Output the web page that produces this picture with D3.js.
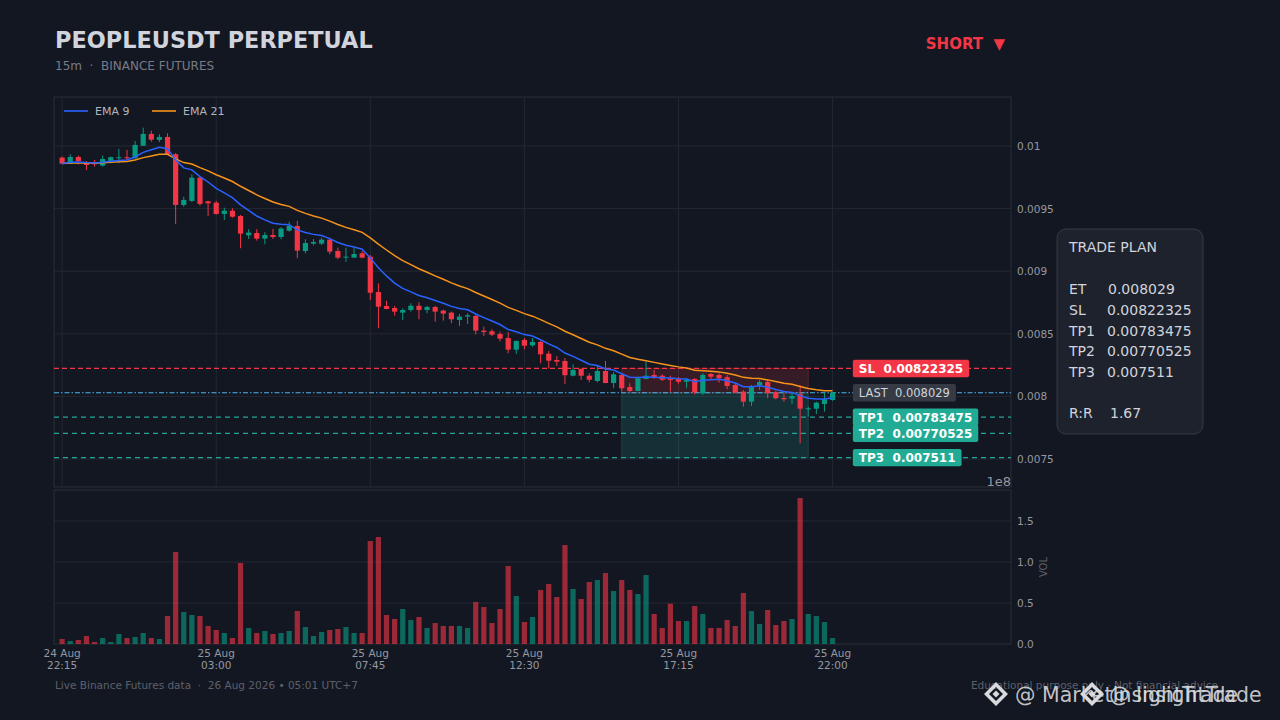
<!DOCTYPE html>
<html>
<head>
<meta charset="utf-8">
<script src="https://cdn.jsdelivr.net/npm/d3@7"></script>
<style>
html, body { margin: 0; padding: 0; background: #131722; }
svg { display: block; font-family: "DejaVu Sans", sans-serif; }
svg text { white-space: pre; }
</style>
</head>
<body>
<div id="chart"></div>
<script>

// 15m candles, 24 Aug 22:15 -> 25 Aug 22:00
var opens = [0.009907,0.009859,0.009912,0.009870,0.009870,0.009843,0.009880,0.009902,0.009910,0.009902,
    0.010002,0.010096,0.010048,0.010072,0.009934,0.009529,0.009561,0.009747,0.009558,0.009547,
    0.009457,0.009483,0.009441,0.009287,0.009305,0.009260,0.009289,0.009273,0.009323,0.009361,
    0.009161,0.009220,0.009220,0.009252,0.009161,0.009108,0.009108,0.009143,0.009116,0.008834,
    0.008722,0.008706,0.008669,0.008690,0.008724,0.008690,0.008714,0.008685,0.008669,0.008610,
    0.008637,0.008642,0.008525,0.008520,0.008498,0.008466,0.008373,0.008451,0.008408,0.008435,
    0.008341,0.008291,0.008283,0.008165,0.008219,0.008165,0.008123,0.008203,0.008107,0.008171,
    0.008075,0.008043,0.008139,0.008171,0.008165,0.008139,0.008139,0.008117,0.008139,0.008025,
    0.008179,0.008171,0.008153,0.008091,0.008038,0.007958,0.008089,0.008115,0.008035,0.007987,
    0.007982,0.008019,0.007897,0.007902,0.007939,0.007971];
var highs = [0.009915,0.009934,0.009923,0.009880,0.009888,0.009923,0.009915,0.009976,0.009968,0.010040,
    0.010146,0.010122,0.010093,0.010101,0.009944,0.009595,0.009774,0.009760,0.009563,0.009561,
    0.009507,0.009502,0.009449,0.009335,0.009335,0.009311,0.009337,0.009351,0.009395,0.009401,
    0.009255,0.009257,0.009268,0.009268,0.009188,0.009188,0.009183,0.009161,0.009129,0.008903,
    0.008764,0.008722,0.008704,0.008744,0.008752,0.008724,0.008724,0.008693,0.008677,0.008658,
    0.008664,0.008650,0.008557,0.008536,0.008517,0.008514,0.008446,0.008466,0.008466,0.008443,
    0.008363,0.008323,0.008307,0.008256,0.008224,0.008185,0.008245,0.008283,0.008193,0.008175,
    0.008105,0.008157,0.008277,0.008211,0.008176,0.008165,0.008155,0.008145,0.008145,0.008185,
    0.008189,0.008185,0.008171,0.008099,0.008051,0.008091,0.008131,0.008131,0.008046,0.008025,
    0.008030,0.008091,0.007918,0.007958,0.008030,0.008035];
var lows = [0.009854,0.009856,0.009854,0.009808,0.009835,0.009835,0.009862,0.009862,0.009888,0.009898,
    0.010000,0.010034,0.010030,0.009930,0.009377,0.009515,0.009553,0.009523,0.009441,0.009451,
    0.009409,0.009427,0.009183,0.009257,0.009244,0.009215,0.009257,0.009255,0.009316,0.009103,
    0.009143,0.009207,0.009209,0.009135,0.009095,0.009074,0.009105,0.009103,0.008770,0.008544,
    0.008696,0.008645,0.008610,0.008677,0.008616,0.008664,0.008597,0.008605,0.008584,0.008562,
    0.008578,0.008496,0.008482,0.008482,0.008440,0.008344,0.008339,0.008376,0.008397,0.008264,
    0.008224,0.008243,0.008099,0.008160,0.008131,0.008113,0.008113,0.008105,0.008065,0.008038,
    0.008033,0.008040,0.008136,0.008139,0.008123,0.008038,0.008101,0.008065,0.008017,0.008011,
    0.008137,0.008110,0.008057,0.008025,0.007918,0.007923,0.008051,0.007985,0.007977,0.007958,
    0.007939,0.007625,0.007838,0.007859,0.007878,0.007965];
var closes = [0.009859,0.009912,0.009880,0.009848,0.009854,0.009896,0.009910,0.009910,0.009902,0.010008,
    0.010096,0.010050,0.010072,0.009934,0.009529,0.009569,0.009747,0.009537,0.009542,0.009457,
    0.009483,0.009435,0.009300,0.009308,0.009260,0.009289,0.009273,0.009340,0.009361,0.009164,
    0.009225,0.009233,0.009252,0.009156,0.009108,0.009116,0.009137,0.009108,0.008828,0.008716,
    0.008698,0.008677,0.008690,0.008724,0.008690,0.008714,0.008677,0.008661,0.008616,0.008637,
    0.008648,0.008525,0.008514,0.008493,0.008461,0.008373,0.008443,0.008405,0.008435,0.008336,
    0.008285,0.008277,0.008169,0.008211,0.008165,0.008133,0.008203,0.008107,0.008176,0.008065,
    0.008043,0.008145,0.008165,0.008149,0.008133,0.008133,0.008117,0.008131,0.008033,0.008171,
    0.008157,0.008145,0.008083,0.008030,0.007958,0.008078,0.008115,0.008025,0.007985,0.007977,
    0.008003,0.007902,0.007905,0.007950,0.007977,0.008029];
// volume, in units of 1e8
var volumes = [0.061,0.037,0.049,0.098,0.024,0.073,0.024,0.122,0.073,0.085,
    0.134,0.073,0.061,0.341,1.122,0.390,0.354,0.341,0.220,0.171,
    0.134,0.073,0.988,0.195,0.134,0.159,0.122,0.134,0.159,0.402,
    0.207,0.098,0.146,0.171,0.183,0.207,0.134,0.134,1.256,1.305,
    0.354,0.305,0.427,0.293,0.329,0.195,0.256,0.220,0.220,0.220,
    0.195,0.512,0.451,0.256,0.427,0.951,0.585,0.268,0.329,0.659,
    0.732,0.573,1.207,0.671,0.549,0.756,0.780,0.866,0.646,0.780,
    0.659,0.610,0.841,0.366,0.195,0.492,0.280,0.280,0.463,0.366,
    0.195,0.195,0.293,0.220,0.622,0.402,0.244,0.415,0.232,0.280,
    0.305,1.780,0.366,0.341,0.268,0.073];

var timeTickIdx = [0, 19, 38, 57, 76, 95];
var timeTickDay = ["24 Aug", "25 Aug", "25 Aug", "25 Aug", "25 Aug", "25 Aug"];
var timeTickTime = ["22:15", "03:00", "07:45", "12:30", "17:15", "22:00"];
var priceTicks = [0.0075, 0.008, 0.0085, 0.009, 0.0095, 0.01];
var volTicks = [0, 0.5, 1.0, 1.5];

// trade plan
var planNames = ["ET", "SL", "TP1", "TP2", "TP3"];
var planValues = [0.008029, 0.00822325, 0.00783475, 0.00770525, 0.007511];
var planText = ["0.008029", "0.00822325", "0.00783475", "0.00770525", "0.007511"];
var riskReward = "1.67";
var zoneStart = 69, zoneEnd = 92;

var W = 1280, H = 720;
var bg = "#131722", gridCol = "#242833", upCol = "#089981", downCol = "#f23645";
var plot = {left: 54, right: 1011, top: 97, bottom: 487};
var vplot = {top: 490, bottom: 644};

var svg = d3.select("#chart").append("svg")
    .attr("width", W)
    .attr("height", H);

svg.append("rect").attr("width", W).attr("height", H).attr("fill", bg);

var x = d3.scaleLinear().domain([-1, 117]).range([plot.left, plot.right]);
var y = d3.scaleLinear().domain([0.0072764, 0.010391]).range([plot.bottom, plot.top]);
var yv = d3.scaleLinear().domain([0, 1.878]).range([vplot.bottom, vplot.top]);

var candles = closes.map(function (c, i) {
    return {i: i, o: opens[i], h: highs[i], l: lows[i], c: c, v: volumes[i]};
});

/* EMA from closes */
function ema(values, n) {
    var k = 2 / (n + 1), out = [], prev;
    values.forEach(function (v, i) {
        prev = (i === 0) ? v : v * k + prev * (1 - k);
        out.push(prev);
    });
    return out;
}
var ema9 = ema(closes, 9), ema21 = ema(closes, 21);

svg.append("clipPath").attr("id", "clipMain")
    .append("rect")
    .attr("x", plot.left).attr("y", plot.top)
    .attr("width", plot.right - plot.left).attr("height", plot.bottom - plot.top);

// ---------- header ----------
svg.append("text").attr("x", 55).attr("y", 48)
    .attr("font-size", 22.4).attr("font-weight", "bold").attr("fill", "#d1d4dc")
    .text("PEOPLEUSDT PERPETUAL");
svg.append("text").attr("x", 55).attr("y", 70)
    .attr("font-size", 12).attr("fill", "#787b86")
    .text("15m  \u00b7  BINANCE FUTURES");
svg.append("text").attr("x", 1005).attr("y", 49).attr("text-anchor", "end")
    .attr("font-size", 15).attr("font-weight", "bold").attr("fill", downCol)
    .text("SHORT  \u25bc");

// ---------- main panel ----------
var main = svg.append("g");

main.selectAll("line.hgrid").data(priceTicks).enter().append("line")
    .attr("class", "hgrid")
    .attr("x1", plot.left).attr("x2", plot.right)
    .attr("y1", function (d) { return y(d); })
    .attr("y2", function (d) { return y(d); })
    .attr("stroke", gridCol).attr("stroke-width", 1);

main.selectAll("line.vgrid").data(timeTickIdx).enter().append("line")
    .attr("class", "vgrid")
    .attr("x1", function (d) { return x(d); })
    .attr("x2", function (d) { return x(d); })
    .attr("y1", plot.top).attr("y2", plot.bottom)
    .attr("stroke", gridCol).attr("stroke-width", 1);

main.append("rect")
    .attr("x", plot.left).attr("y", plot.top)
    .attr("width", plot.right - plot.left).attr("height", plot.bottom - plot.top)
    .attr("fill", "none").attr("stroke", "#2a2e39");

// trade zones
main.append("rect")
    .attr("x", x(zoneStart)).attr("width", x(zoneEnd) - x(zoneStart))
    .attr("y", y(planValues[1])).attr("height", y(planValues[0]) - y(planValues[1]))
    .attr("fill", downCol).attr("fill-opacity", 0.16)
    .attr("stroke", downCol).attr("stroke-opacity", 0.25);
main.append("rect")
    .attr("x", x(zoneStart)).attr("width", x(zoneEnd) - x(zoneStart))
    .attr("y", y(planValues[0])).attr("height", y(planValues[4]) - y(planValues[0]))
    .attr("fill", "#26a69a").attr("fill-opacity", 0.17)
    .attr("stroke", "#26a69a").attr("stroke-opacity", 0.25);

// level lines
var levels = [
    {v: planValues[1], col: "#f23645", dash: "5,3"},
    {v: planValues[0], col: "#4db6ee", dash: "5,2,1.5,2"},
    {v: planValues[2], col: "#26a69a", dash: "5,4"},
    {v: planValues[3], col: "#26a69a", dash: "5,4"},
    {v: planValues[4], col: "#26a69a", dash: "5,4"}
];
main.selectAll("line.level").data(levels).enter().append("line")
    .attr("class", "level")
    .attr("x1", plot.left).attr("x2", plot.right)
    .attr("y1", function (d) { return y(d.v); })
    .attr("y2", function (d) { return y(d.v); })
    .attr("stroke", function (d) { return d.col; })
    .attr("stroke-width", 1.2)
    .attr("stroke-dasharray", function (d) { return d.dash; });

// candles
var bodyW = 5.2;
var cg = main.append("g").attr("clip-path", "url(#clipMain)");
var cEnter = cg.selectAll("g.candle").data(candles).enter().append("g").attr("class", "candle");
cEnter.append("line")
    .attr("x1", function (d) { return x(d.i); })
    .attr("x2", function (d) { return x(d.i); })
    .attr("y1", function (d) { return y(d.h); })
    .attr("y2", function (d) { return y(d.l); })
    .attr("stroke", function (d) { return d.c >= d.o ? upCol : downCol; })
    .attr("stroke-width", 1);
cEnter.append("rect")
    .attr("x", function (d) { return x(d.i) - bodyW / 2; })
    .attr("width", bodyW)
    .attr("y", function (d) { return y(Math.max(d.o, d.c)); })
    .attr("height", function (d) { return Math.max(1, Math.abs(y(d.o) - y(d.c))); })
    .attr("fill", function (d) { return d.c >= d.o ? upCol : downCol; });

// EMAs
var emaLine = function (arr) {
    return d3.line()
        .x(function (d, i) { return x(i); })
        .y(function (d) { return y(d); })(arr);
};
cg.append("path").attr("d", emaLine(ema21))
    .attr("fill", "none").attr("stroke", "#f7931a").attr("stroke-width", 1.5);
cg.append("path").attr("d", emaLine(ema9))
    .attr("fill", "none").attr("stroke", "#2962ff").attr("stroke-width", 1.5);

// legend
var legend = main.append("g");
[["EMA 9", "#2962ff", 64], ["EMA 21", "#f7931a", 152]].forEach(function (l) {
    legend.append("line").attr("x1", l[2]).attr("x2", l[2] + 24)
        .attr("y1", 111).attr("y2", 111)
        .attr("stroke", l[1]).attr("stroke-width", 1.6);
    legend.append("text").attr("x", l[2] + 31).attr("y", 115)
        .attr("font-size", 11).attr("fill", "#b2b5be").text(l[0]);
});

// price axis labels
main.selectAll("text.ptick").data(priceTicks).enter().append("text")
    .attr("class", "ptick")
    .attr("x", 1017)
    .attr("y", function (d) { return y(d) + 4; })
    .attr("font-size", 10.5).attr("fill", "#9598a1")
    .text(function (d) { return String(+d.toFixed(4)); });

// level tags
var tags = [
    {label: "SL  " + planText[1], v: planValues[1], bg: "#f23645", fg: "#ffffff", bold: true},
    {label: "LAST  " + planText[0], v: planValues[0], bg: "#363a45", fg: "#d1d4dc", bold: false},
    {label: "TP1  " + planText[2], v: planValues[2], bg: "#22ab94", fg: "#ffffff", bold: true},
    {label: "TP2  " + planText[3], v: planValues[3], bg: "#22ab94", fg: "#ffffff", bold: true},
    {label: "TP3  " + planText[4], v: planValues[4], bg: "#22ab94", fg: "#ffffff", bold: true}
];
var tagX = x(97.5);
tags.forEach(function (t) {
    var g = main.append("g");
    var txt = g.append("text")
        .attr("x", tagX + 6).attr("y", y(t.v) + 4.5)
        .attr("font-size", t.bold ? 12 : 11.5)
        .attr("font-weight", t.bold ? "bold" : "normal")
        .attr("fill", t.fg)
        .text(t.label);
    var w = txt.node().getComputedTextLength();
    g.insert("rect", "text")
        .attr("x", tagX).attr("y", y(t.v) - 8.7)
        .attr("width", w + 12).attr("height", 17.4)
        .attr("rx", 2)
        .attr("fill", t.bg);
});

// ---------- volume panel ----------
var vol = svg.append("g");
vol.selectAll("line.vgridh").data(volTicks.slice(1)).enter().append("line")
    .attr("class", "vgridh")
    .attr("x1", plot.left).attr("x2", plot.right)
    .attr("y1", function (d) { return yv(d); })
    .attr("y2", function (d) { return yv(d); })
    .attr("stroke", gridCol);
vol.append("rect")
    .attr("x", plot.left).attr("y", vplot.top)
    .attr("width", plot.right - plot.left).attr("height", vplot.bottom - vplot.top)
    .attr("fill", "none").attr("stroke", "#2a2e39");

vol.selectAll("rect.vbar").data(candles).enter().append("rect")
    .attr("class", "vbar")
    .attr("x", function (d) { return x(d.i) - bodyW / 2; })
    .attr("width", bodyW)
    .attr("y", function (d) { return yv(d.v); })
    .attr("height", function (d) { return yv(0) - yv(d.v); })
    .attr("fill", function (d) { return d.c >= d.o ? upCol : downCol; })
    .attr("fill-opacity", 0.62);

vol.selectAll("text.vtick").data(volTicks).enter().append("text")
    .attr("class", "vtick")
    .attr("x", 1017)
    .attr("y", function (d) { return yv(d) + 4; })
    .attr("font-size", 10.5).attr("fill", "#9598a1")
    .text(function (d) { return d.toFixed(1); });
vol.append("text").attr("x", 1011).attr("y", 486).attr("text-anchor", "end")
    .attr("font-size", 13).attr("fill", "#9598a1").text("1e8");
vol.append("text")
    .attr("transform", "translate(1047,567) rotate(-90)")
    .attr("text-anchor", "middle")
    .attr("font-size", 10).attr("fill", "#5d606b").text("VOL");

// time axis
timeTickIdx.forEach(function (idx, k) {
    vol.append("text").attr("x", x(idx)).attr("y", 657).attr("text-anchor", "middle")
        .attr("font-size", 10.5).attr("fill", "#9598a1").text(timeTickDay[k]);
    vol.append("text").attr("x", x(idx)).attr("y", 669).attr("text-anchor", "middle")
        .attr("font-size", 10.5).attr("fill", "#9598a1").text(timeTickTime[k]);
});

// ---------- trade plan box ----------
var box = svg.append("g");
box.append("rect")
    .attr("x", 1057).attr("y", 229).attr("width", 146).attr("height", 205)
    .attr("rx", 9)
    .attr("fill", "#1e222d").attr("stroke", "#363a45");
box.append("text").attr("x", 1069).attr("y", 252)
    .attr("font-size", 14).attr("fill", "#d1d4dc").text("TRADE PLAN");
planNames.forEach(function (n, k) {
    var yy = 294 + k * 20.8;
    box.append("text").attr("x", 1069).attr("y", yy)
        .attr("font-size", 14).attr("fill", "#d1d4dc").text(n);
    box.append("text").attr("x", k === 0 ? 1108 : 1107).attr("y", yy)
        .attr("font-size", 14).attr("fill", "#d1d4dc").text(planText[k]);
});
box.append("text").attr("x", 1069).attr("y", 418)
    .attr("font-size", 14).attr("fill", "#d1d4dc").text("R:R");
box.append("text").attr("x", 1110).attr("y", 418)
    .attr("font-size", 14).attr("fill", "#d1d4dc").text(riskReward);

// ---------- footer ----------
svg.append("text").attr("x", 55).attr("y", 689)
    .attr("font-size", 10.5).attr("fill", "#5d606b")
    .text("Live Binance Futures data  \u00b7  26 Aug 2026 \u2022 05:01 UTC+7");
svg.append("text").attr("x", 1218).attr("y", 689).attr("text-anchor", "end")
    .attr("font-size", 10.5).attr("fill", "#5d606b")
    .text("Educational purpose only \u00b7 Not financial advice");

// watermark (two overlapping stamps, as in the source image)
function logo(cx, cy) {
    var g = svg.append("g").attr("transform", "translate(" + cx + "," + cy + ")").attr("fill", "#d8dade");
    g.append("path").attr("d", "M0,-12 L12,0 L0,12 L-12,0 Z M0,-7 L-7,0 L0,7 L7,0 Z").attr("fill-rule", "evenodd");
    g.append("path").attr("d", "M0,-3.5 L3.5,0 L0,3.5 L-3.5,0 Z");
}
logo(996, 694);
svg.append("text").attr("x", 1015).attr("y", 702)
    .attr("font-size", 20.5).attr("fill", "#d8dade").attr("fill-opacity", 0.9)
    .text("@ MarketInsightTrade");
logo(1092, 694);
svg.append("text").attr("x", 1109).attr("y", 702)
    .attr("font-size", 20.5).attr("fill", "#d8dade").attr("fill-opacity", 0.9)
    .text("@ InsightTrade");

</script>
</body>
</html>
